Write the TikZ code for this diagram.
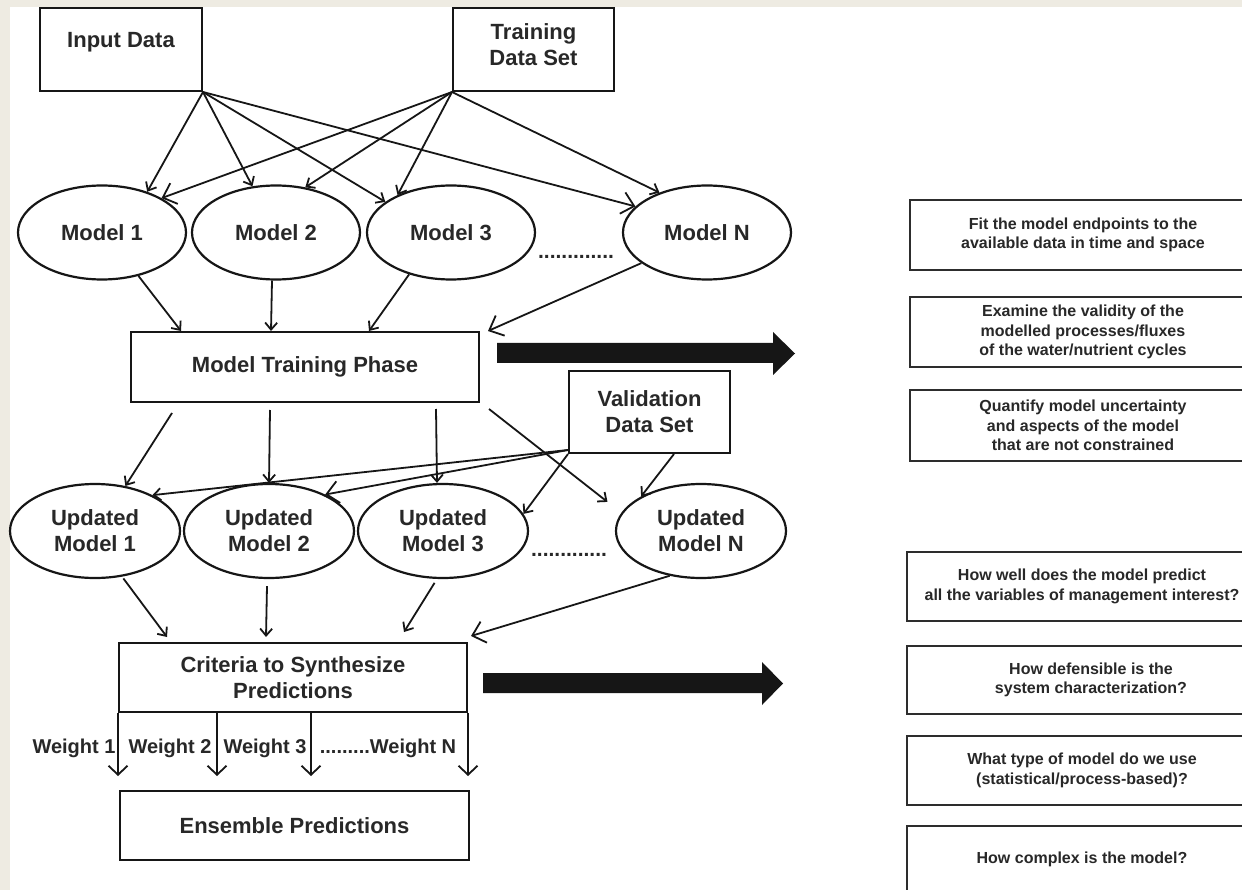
\documentclass[tikz,border=0pt]{standalone}
\usepackage{fontspec}
\setmainfont{Liberation Sans}
\usetikzlibrary{shapes.geometric,arrows.meta,calc}
\definecolor{bgb}{RGB}{238,235,226}
\definecolor{ink}{RGB}{22,22,22}
\definecolor{txt}{RGB}{40,40,40}
\begin{document}
\begin{tikzpicture}[x=1pt,y=-1pt,
  every node/.style={text=txt, font=\bfseries\fontsize{22}{26}\selectfont},
  box/.style={draw=ink, line width=2pt, rectangle, inner sep=0pt, align=center},
  ell/.style={draw=ink, line width=2.2pt, ellipse, minimum width=168pt, minimum height=94pt, inner sep=0pt, align=center},
  rbox/.style={draw=ink!90, line width=2.2pt, rectangle, inner sep=0pt, align=center, minimum width=346pt, font=\bfseries\fontsize{16}{19.5}\selectfont},
  plain/.style={inner sep=0pt, align=center},
  arr/.style={draw=ink, line width=1.8pt, -{Straight Barb[length=7pt,width=12pt]}},
  arrbig/.style={draw=ink, line width=1.8pt, -{Straight Barb[length=12pt,width=22pt]}},
  warr/.style={draw=ink, line width=1.8pt, -{Straight Barb[length=9pt,width=19pt]}},
  dotrow/.style={font=\bfseries\fontsize{21}{24}\selectfont, inner sep=0pt},
  wlab/.style={font=\bfseries\fontsize{20}{24}\selectfont, inner sep=0pt},
]
\useasboundingbox (0,0) rectangle (1242,890);
\fill[bgb] (0,0) rectangle (1242,890);
\fill[white] (10,7) rectangle (1242,890);

% top boxes
\node[box, minimum width=162pt, minimum height=83pt] (inp) at (121,49.5) {};
\node[plain] (inpt) at (121,42) {Input Data};
\node[box, minimum width=161pt, minimum height=83pt] (trn) at (533.5,49.5) {};
\node[plain] (trnt) at (533.5,44.5) {Training\\Data Set};

% models
\node[ell] (m1) at (102,232.5) {Model 1};
\node[ell] (m2) at (276,232.5) {Model 2};
\node[ell] (m3) at (451,232.5) {Model 3};
\node[ell] (mN) at (707,232.5) {Model N};
\node[dotrow] (d1) at (576,257) {.............};

% training phase
\node[box, minimum width=348pt, minimum height=70pt] (mtp) at (305,367) {Model Training Phase};
\node[box, minimum width=161pt, minimum height=82pt] (val) at (649.5,412) {Validation\\Data Set};

% updated models
\node[ell, minimum width=170pt] (u1) at (95,531) {Updated\\Model 1};
\node[ell, minimum width=170pt] (u2) at (269,531) {Updated\\Model 2};
\node[ell, minimum width=170pt] (u3) at (443,531) {Updated\\Model 3};
\node[ell, minimum width=170pt] (uN) at (701,531) {Updated\\Model N};
\node[dotrow] (d2) at (569,555) {.............};

% criteria and ensemble
\node[box, minimum width=348pt, minimum height=69pt] (crit) at (293,677.5) {Criteria to Synthesize\\Predictions};
\node[box, minimum width=349pt, minimum height=69pt] (ens) at (294.5,825.5) {Ensemble Predictions};
\node[wlab] (w1) at (74,748) {Weight 1};
\node[wlab] (w2) at (170,748) {Weight 2};
\node[wlab] (w3) at (265,748) {Weight 3};
\node[wlab] (w4) at (388,748) {.........Weight N};

% right column
\node[rbox, minimum height=70pt] (r1) at (1083,235) {Fit the model endpoints to the\\available data in time and space};
\node[rbox, minimum height=70pt] (r2) at (1083,332) {Examine the validity of the\\modelled processes/fluxes\\of the water/nutrient cycles};
\node[rbox, minimum height=71pt] (r3) at (1083,425.5) {Quantify model uncertainty\\and aspects of the model\\that are not constrained};
\node[rbox, minimum width=350pt, minimum height=69pt] (r4) at (1082,586.5) {\raisebox{2pt}{How well does the model predict}\\\raisebox{2pt}{all the variables of management interest?}};
\node[rbox, minimum width=350pt, minimum height=68pt] (r5) at (1082,680) {\hspace*{18pt}How defensible is the\\\hspace*{18pt}system characterization?};
\node[rbox, minimum width=350pt, minimum height=69pt] (r6) at (1082,770.5) {What type of model do we use\\(statistical/process-based)?};
\node[rbox, minimum width=350pt, minimum height=74pt] (r7) at (1082,863) {\raisebox{10pt}{How complex is the model?}};

% input / training -> models
\draw[arr] (inp.south east) -- (m1.42);
\draw[arr] (inp.south east) -- (m2.117);
\draw[arr] (inp.south east) -- (m3.155);
\draw[arrbig] (inp.south east) -- (mN.160);
\draw[arrbig] (trn.south west) -- (m1.30);
\draw[arr] (trn.south west) -- (m2.57);
\draw[arr] (trn.south west) -- (m3.145);
\draw[arr] (trn.south west) -- (mN.140);

% models -> training phase
\draw[arr] (m1.-50) -- ([xshift=51pt]mtp.north west);
\draw[arr] ([xshift=-4pt]m2.south) -- ([xshift=141pt]mtp.north west);
\draw[arr] (m3.-135) -- ([xshift=239pt]mtp.north west);
\draw[arrbig] (mN.-155) -- ([xshift=8pt]mtp.north east);

% training phase -> updated
\draw[arr] ([xshift=42pt,yshift=-10pt]mtp.south west) -- (u1.56);
\draw[arr] ([xshift=140pt,yshift=-7pt]mtp.south west) -- (u2.north);
\draw[arr] ([xshift=306pt,yshift=-6pt]mtp.south west) -- ([xshift=-6pt]u3.north);
\draw[arr] ([xshift=9pt,yshift=-6pt]mtp.south east) -- ([xshift=-18pt,yshift=6pt]uN.163);

% validation -> updated
\draw[arr] ([yshift=4pt]val.south west) -- (u1.32);
\draw[arrbig] ([yshift=4pt]val.south west) -- (u2.33);
\draw[arr] (val.south west) -- (u3.12);
\draw[arr] ([xshift=106pt]val.south west) -- (uN.150);

% updated -> criteria
\draw[arr] ([yshift=-2pt]u1.-58) -- ([xshift=49pt,yshift=5pt]crit.north west);
\draw[arr] ([xshift=-2pt,yshift=-7pt]u2.south) -- ([xshift=148pt,yshift=5pt]crit.north west);
\draw[arr] ([yshift=-4pt]u3.-100) -- ([xshift=286pt,yshift=10pt]crit.north west);
\draw[arrbig] (uN.-125) -- ([xshift=3pt,yshift=6pt]crit.north east);

% weights
\draw[warr] (crit.south west) -- ([xshift=-1pt,yshift=14pt]ens.north west);
\draw[warr] ([xshift=99pt]crit.south west) -- ([xshift=98pt,yshift=14pt]ens.north west);
\draw[warr] ([xshift=193pt]crit.south west) -- ([xshift=192pt,yshift=14pt]ens.north west);
\draw[warr] (crit.south east) -- ([xshift=-2pt,yshift=14pt]ens.north east);

% big arrows
\fill[ink] (497,343) -- (773,343) -- (773,332) -- (795,353.5) -- (773,375) -- (773,363) -- (497,363) -- cycle;
\fill[ink] (483,673) -- (762,673) -- (762,662) -- (783,683.5) -- (762,705) -- (762,693) -- (483,693) -- cycle;
\end{tikzpicture}
\end{document}
